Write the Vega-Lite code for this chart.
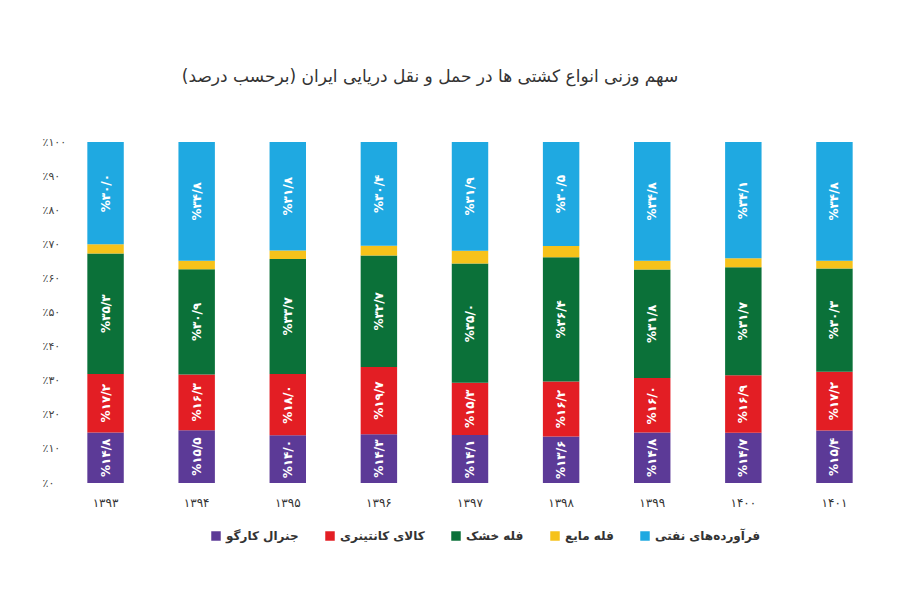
{
  "$schema": "https://vega.github.io/schema/vega-lite/v6.json",
  "width": 820,
  "height": 341,
  "autosize": "none",
  "padding": {"left": 60, "top": 142, "right": 20, "bottom": 117},
  "background": "white",
  "config": {"font": "DejaVu Sans", "view": {"stroke": null},
    "axisY": {"values": [0,10,20,30,40,50,60,70,80,90,100], "labelOverlap": false, "labelSeparation": 0, "domain": false, "ticks": false, "grid": false, "labelFontSize": 11, "labelColor": "#444", "labelPadding": 18, "labelAlign": "left", "title": null}},
  "title": {"text": "سهم وزنی انواع کشتی ها در حمل و نقل دریایی ایران (برحسب درصد)", "fontSize": 17, "fontWeight": "normal", "color": "#333", "offset": 50, "anchor": "middle", "dx": -40},
  "data": {"values": [
    {"year": "1393", "type": "جنرال کارگو", "o": 1, "v": 14.8},
    {"year": "1393", "type": "کالای کانتینری", "o": 2, "v": 17.2},
    {"year": "1393", "type": "فله خشک", "o": 3, "v": 35.3},
    {"year": "1393", "type": "فله مایع", "o": 4, "v": 2.7},
    {"year": "1393", "type": "فرآورده‌های نفتی", "o": 5, "v": 30.0},
    {"year": "1394", "type": "جنرال کارگو", "o": 1, "v": 15.5},
    {"year": "1394", "type": "کالای کانتینری", "o": 2, "v": 16.3},
    {"year": "1394", "type": "فله خشک", "o": 3, "v": 30.9},
    {"year": "1394", "type": "فله مایع", "o": 4, "v": 2.5},
    {"year": "1394", "type": "فرآورده‌های نفتی", "o": 5, "v": 34.8},
    {"year": "1395", "type": "جنرال کارگو", "o": 1, "v": 14.0},
    {"year": "1395", "type": "کالای کانتینری", "o": 2, "v": 18.0},
    {"year": "1395", "type": "فله خشک", "o": 3, "v": 33.7},
    {"year": "1395", "type": "فله مایع", "o": 4, "v": 2.5},
    {"year": "1395", "type": "فرآورده‌های نفتی", "o": 5, "v": 31.8},
    {"year": "1396", "type": "جنرال کارگو", "o": 1, "v": 14.3},
    {"year": "1396", "type": "کالای کانتینری", "o": 2, "v": 19.7},
    {"year": "1396", "type": "فله خشک", "o": 3, "v": 32.7},
    {"year": "1396", "type": "فله مایع", "o": 4, "v": 2.9},
    {"year": "1396", "type": "فرآورده‌های نفتی", "o": 5, "v": 30.4},
    {"year": "1397", "type": "جنرال کارگو", "o": 1, "v": 14.1},
    {"year": "1397", "type": "کالای کانتینری", "o": 2, "v": 15.3},
    {"year": "1397", "type": "فله خشک", "o": 3, "v": 35.0},
    {"year": "1397", "type": "فله مایع", "o": 4, "v": 3.7},
    {"year": "1397", "type": "فرآورده‌های نفتی", "o": 5, "v": 31.9},
    {"year": "1398", "type": "جنرال کارگو", "o": 1, "v": 13.6},
    {"year": "1398", "type": "کالای کانتینری", "o": 2, "v": 16.2},
    {"year": "1398", "type": "فله خشک", "o": 3, "v": 36.4},
    {"year": "1398", "type": "فله مایع", "o": 4, "v": 3.3},
    {"year": "1398", "type": "فرآورده‌های نفتی", "o": 5, "v": 30.5},
    {"year": "1399", "type": "جنرال کارگو", "o": 1, "v": 14.8},
    {"year": "1399", "type": "کالای کانتینری", "o": 2, "v": 16.0},
    {"year": "1399", "type": "فله خشک", "o": 3, "v": 31.8},
    {"year": "1399", "type": "فله مایع", "o": 4, "v": 2.6},
    {"year": "1399", "type": "فرآورده‌های نفتی", "o": 5, "v": 34.8},
    {"year": "1400", "type": "جنرال کارگو", "o": 1, "v": 14.7},
    {"year": "1400", "type": "کالای کانتینری", "o": 2, "v": 16.9},
    {"year": "1400", "type": "فله خشک", "o": 3, "v": 31.7},
    {"year": "1400", "type": "فله مایع", "o": 4, "v": 2.6},
    {"year": "1400", "type": "فرآورده‌های نفتی", "o": 5, "v": 34.1},
    {"year": "1401", "type": "جنرال کارگو", "o": 1, "v": 15.4},
    {"year": "1401", "type": "کالای کانتینری", "o": 2, "v": 17.2},
    {"year": "1401", "type": "فله خشک", "o": 3, "v": 30.3},
    {"year": "1401", "type": "فله مایع", "o": 4, "v": 2.3},
    {"year": "1401", "type": "فرآورده‌های نفتی", "o": 5, "v": 34.8}
  ]},
  "transform": [
    {"stack": "v", "groupby": ["year"], "sort": [{"field": "o", "order": "ascending"}], "as": ["v0", "v1"]},
    {"calculate": "(datum.v0 + datum.v1) / 2", "as": "mid"},
    {"calculate": "'%' + replace(replace(replace(replace(replace(replace(replace(replace(replace(replace(replace(format(datum.v, '.1f'), '.', '/'), regexp('0','g'),'۰'), regexp('1','g'),'۱'), regexp('2','g'),'۲'), regexp('3','g'),'۳'), regexp('4','g'),'۴'), regexp('5','g'),'۵'), regexp('6','g'),'۶'), regexp('7','g'),'۷'), regexp('8','g'),'۸'), regexp('9','g'),'۹')", "as": "lbl"}
  ],
  "encoding": {
    "x": {"field": "year", "type": "ordinal", "title": null,
      "scale": {"paddingInner": 0.6, "paddingOuter": 0.3},
      "axis": {"domain": false, "ticks": false, "labelAngle": 0, "labelFontSize": 12, "labelColor": "#333", "labelPadding": 14,
        "labelExpr": "replace(replace(replace(replace(replace(replace(replace(replace(replace(replace(datum.label, regexp('0','g'),'۰'), regexp('1','g'),'۱'), regexp('2','g'),'۲'), regexp('3','g'),'۳'), regexp('4','g'),'۴'), regexp('5','g'),'۵'), regexp('6','g'),'۶'), regexp('7','g'),'۷'), regexp('8','g'),'۸'), regexp('9','g'),'۹')"}}
  },
  "layer": [
    {
      "mark": {"type": "bar"},
      "encoding": {
        "y": {"field": "v0", "type": "quantitative", "scale": {"domain": [0, 100]},
          "axis": {"labelExpr": "'٪' + replace(replace(replace(replace(replace(replace(replace(replace(replace(replace(datum.label, regexp('0','g'),'۰'), regexp('1','g'),'۱'), regexp('2','g'),'۲'), regexp('3','g'),'۳'), regexp('4','g'),'۴'), regexp('5','g'),'۵'), regexp('6','g'),'۶'), regexp('7','g'),'۷'), regexp('8','g'),'۸'), regexp('9','g'),'۹')"}},
        "y2": {"field": "v1"},
        "color": {"field": "type", "type": "nominal",
          "scale": {"domain": ["جنرال کارگو", "کالای کانتینری", "فله خشک", "فله مایع", "فرآورده‌های نفتی"],
            "range": ["#5c3a97", "#e31e24", "#0b7139", "#f6c21a", "#1fa9e1"]},
          "legend": {"orient": "none", "legendX": 150, "legendY": 388, "direction": "horizontal", "title": null, "symbolType": "square", "symbolSize": 90, "labelFontSize": 12, "labelFontWeight": "bold", "labelColor": "#333", "columnPadding": 25}}
      }
    },
    {
      "transform": [{"filter": "datum.o != 4"}],
      "mark": {"type": "text", "angle": 270, "color": "white", "fontSize": 12, "fontWeight": "bold"},
      "encoding": {
        "y": {"field": "mid", "type": "quantitative",
          "axis": {"labelExpr": "'٪' + replace(replace(replace(replace(replace(replace(replace(replace(replace(replace(datum.label, regexp('0','g'),'۰'), regexp('1','g'),'۱'), regexp('2','g'),'۲'), regexp('3','g'),'۳'), regexp('4','g'),'۴'), regexp('5','g'),'۵'), regexp('6','g'),'۶'), regexp('7','g'),'۷'), regexp('8','g'),'۸'), regexp('9','g'),'۹')"}},
        "text": {"field": "lbl"}
      }
    }
  ]
}
